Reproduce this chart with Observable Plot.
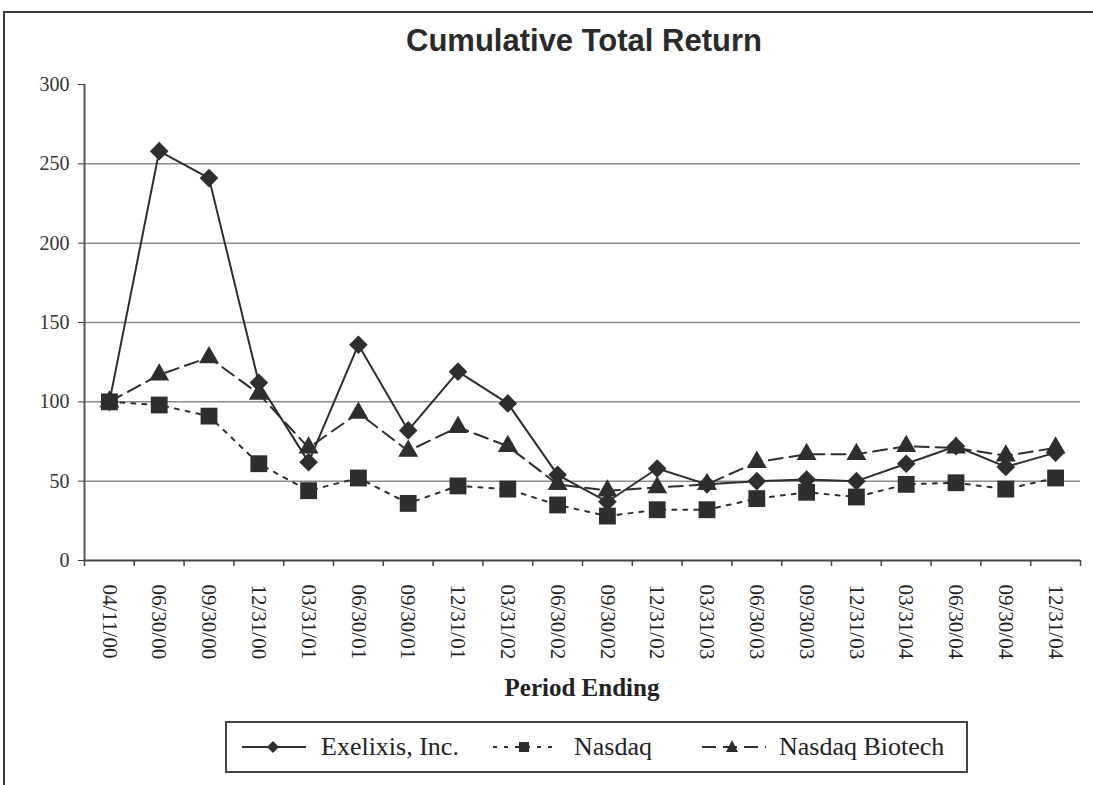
<!DOCTYPE html>
<html>
<head>
<meta charset="utf-8">
<script src="https://cdn.jsdelivr.net/npm/d3@7"></script>
<script src="https://cdn.jsdelivr.net/npm/@observablehq/plot@0.6"></script>
<style>
  html, body { margin: 0; padding: 0; background: #fff; }
  #wrap { position: relative; width: 1093px; height: 785px; overflow: hidden; background: #fff; }
  #frame { position: absolute; left: 3px; top: 11px; width: 1100px; height: 800px;
           border-left: 2px solid #3a3a3a; border-top: 2px solid #3a3a3a; }
  #title { position: absolute; left: 284px; width: 600px; top: 23px; text-align: center;
           font-family: "Liberation Sans", Arial, sans-serif; font-weight: bold; font-size: 31px; color: #2a2a2a; }
  #chart { position: absolute; left: 0; top: 0; }
  #xlabel { position: absolute; left: 332px; width: 500px; top: 674px; text-align: center;
            font-family: "Liberation Serif", "Times New Roman", serif; font-weight: bold; font-size: 25px; color: #222; }
  #legend { position: absolute; left: 225px; top: 721px; width: 739px; height: 48px;
            border: 2px solid #444; box-sizing: content-box;
            font-family: "Liberation Serif", "Times New Roman", serif; font-size: 26px; color: #222; }
  .sw { position: absolute; top: 14px; }
  .lt { position: absolute; top: 7px; line-height: 34px; white-space: nowrap; }
</style>
</head>
<body>
<div id="wrap">
  <div id="frame"></div>
  <div id="title">Cumulative Total Return</div>
  <div id="chart"></div>
  <div id="xlabel">Period Ending</div>
  <div id="legend"></div>
</div>
<script>
// ---- data ----
const dates = ["04/11/00","06/30/00","09/30/00","12/31/00","03/31/01","06/30/01","09/30/01","12/31/01","03/31/02","06/30/02",
               "09/30/02","12/31/02","03/31/03","06/30/03","09/30/03","12/31/03","03/31/04","06/30/04","09/30/04","12/31/04"];
const seriesNames = ["Exelixis, Inc.", "Nasdaq", "Nasdaq Biotech"];
const exelixis = [100,258,241,112,62,136,82,119,99,54,37,58,48,50,51,50,61,72,59,68];
const nasdaq   = [100,98,91,61,44,52,36,47,45,35,28,32,32,39,43,40,48,49,45,52];
const biotech  = [100,117,128,105,71,93,69,84,72,48,44,46,48,62,67,67,72,71,66,71];
const yTicks = [0,50,100,150,200,250,300];
const gridTicks = [50,100,150,200,250];

// ---- layout ----
const W = 1093, H = 700, mL = 84, mR = 13, mT = 84, mB = 140;
const bw = (W - mL - mR) / dates.length;
const ink = "#2e2e2e";

const rows = (vals) => dates.map((d, i) => ({date: d, value: vals[i]}));
const ex = rows(exelixis), nq = rows(nasdaq), bt = rows(biotech);

const chart = Plot.plot({
  width: W, height: H,
  marginLeft: mL, marginRight: mR, marginTop: mT, marginBottom: mB,
  style: {fontFamily: "'Liberation Serif', 'Times New Roman', serif", fontSize: "20px", color: "#333", background: "transparent"},
  x: {type: "band", domain: dates, padding: 0, paddingInner: 0, paddingOuter: 0, round: false, axis: null},
  y: {domain: [0, 300], ticks: yTicks, tickSize: 6, tickPadding: 9, label: null, tickFormat: d => String(d)},
  marks: [
    Plot.ruleY(gridTicks, {stroke: "#8c8c8c", strokeWidth: 1.5}),
    Plot.ruleX([dates[0]], {y1: 0, y2: 300, dx: -bw / 2, stroke: "#555", strokeWidth: 2}),
    Plot.ruleY([0], {stroke: "#444", strokeWidth: 2}),
    Plot.ruleX(dates, {y1: 0, y2: -3.8, dx: bw / 2, stroke: "#444", strokeWidth: 1.5}),
    Plot.ruleX([dates[0]], {y1: 0, y2: -3.8, dx: -bw / 2, stroke: "#444", strokeWidth: 1.5}),
    Plot.text(dates, {x: d => d, y: 0, text: d => d, rotate: 90, textAnchor: "start", dy: 24,
                      fontSize: 21, fill: "#222"}),
    Plot.line(ex, {x: "date", y: "value", stroke: ink, strokeWidth: 2}),
    Plot.line(nq, {x: "date", y: "value", stroke: ink, strokeWidth: 2, strokeDasharray: "4,7"}),
    Plot.line(bt, {x: "date", y: "value", stroke: ink, strokeWidth: 2, strokeDasharray: "14,7"}),
    Plot.dot(nq, {x: "date", y: "value", symbol: "square", r: 9.5, fill: ink, stroke: "none"}),
    Plot.dot(bt, {x: "date", y: "value", symbol: "triangle", r: 7.4, fill: ink, stroke: "none"}),
    Plot.dot(ex, {x: "date", y: "value", symbol: "diamond2", r: 8.4, fill: ink, stroke: "none"})
  ]
});
document.getElementById("chart").appendChild(chart);

// ---- legend ----
const legend = document.getElementById("legend");
const legendItems = [
  {name: seriesNames[0], sw: 15, tx: 94, dash: null, sym: "diamond"},
  {name: seriesNames[1], sw: 266, tx: 347, dash: "4,7", sym: "square"},
  {name: seriesNames[2], sw: 475, tx: 552, dash: "14,7", sym: "triangle"}
];
const ns = "http://www.w3.org/2000/svg";
for (const it of legendItems) {
  const s = document.createElementNS(ns, "svg");
  s.setAttribute("class", "sw");
  s.style.left = it.sw + "px";
  s.setAttribute("width", 64); s.setAttribute("height", 20);
  const ln = document.createElementNS(ns, "line");
  ln.setAttribute("x1", 0); ln.setAttribute("x2", 64); ln.setAttribute("y1", 10); ln.setAttribute("y2", 10);
  ln.setAttribute("stroke", ink); ln.setAttribute("stroke-width", 2);
  if (it.dash) ln.setAttribute("stroke-dasharray", it.dash);
  s.appendChild(ln);
  const p = document.createElementNS(ns, "path");
  let dpath;
  if (it.sym === "diamond") dpath = "M31,4L37,10L31,16L25,10Z";
  else if (it.sym === "square") dpath = "M26,5H36V15H26Z";
  else dpath = "M30,3L36,15H24Z";
  p.setAttribute("d", dpath); p.setAttribute("fill", ink);
  s.appendChild(p);
  legend.appendChild(s);
  const t = document.createElement("span");
  t.className = "lt";
  t.style.left = it.tx + "px";
  t.textContent = it.name;
  legend.appendChild(t);
}
</script>
</body>
</html>
